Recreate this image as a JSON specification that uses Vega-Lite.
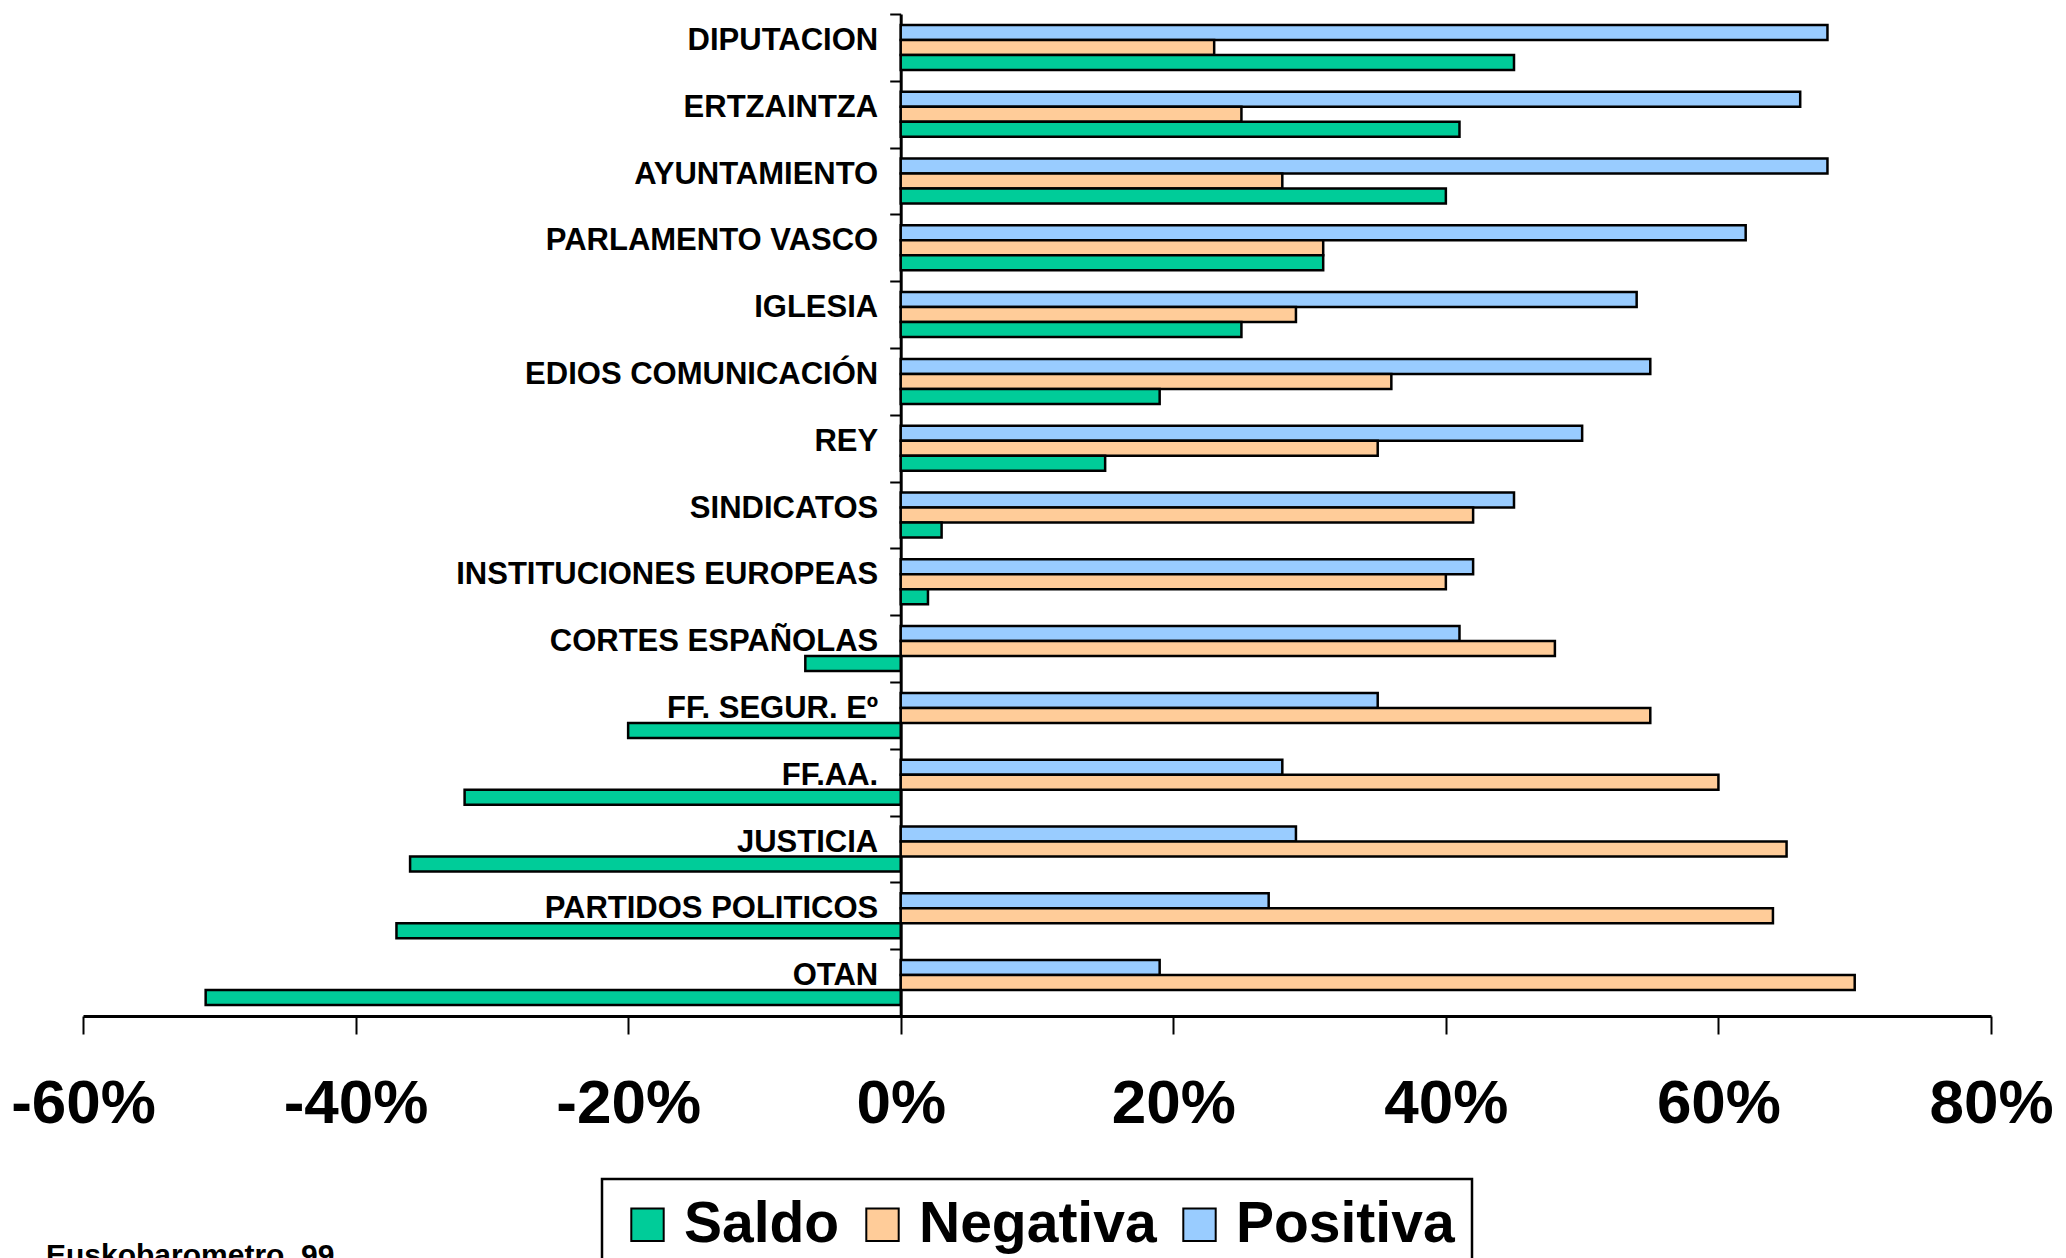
{
  "$schema": "https://vega.github.io/schema/vega-lite/v6.json",
  "width": 1908,
  "height": 1002,
  "autosize": {"type": "none"},
  "padding": {"left": 83, "top": 14, "right": 75, "bottom": 242},
  "background": "white",
  "config": {
    "view": {"stroke": null},
    "font": "Liberation Sans",
    "legend": {"strokeWidth": 2.5}
  },
  "title": {
    "text": "Euskobarometro. 99",
    "orient": "bottom",
    "anchor": "start",
    "frame": "group",
    "fontSize": 30,
    "fontWeight": "bold",
    "color": "black",
    "font": "Liberation Sans",
    "dx": -37,
    "offset": 0,
    "dy": -30
  },
  "data": {
    "values": [
      {"institucion": "DIPUTACION", "serie": "Positiva", "valor": 0.68},
      {"institucion": "DIPUTACION", "serie": "Negativa", "valor": 0.23},
      {"institucion": "DIPUTACION", "serie": "Saldo", "valor": 0.45},
      {"institucion": "ERTZAINTZA", "serie": "Positiva", "valor": 0.66},
      {"institucion": "ERTZAINTZA", "serie": "Negativa", "valor": 0.25},
      {"institucion": "ERTZAINTZA", "serie": "Saldo", "valor": 0.41},
      {"institucion": "AYUNTAMIENTO", "serie": "Positiva", "valor": 0.68},
      {"institucion": "AYUNTAMIENTO", "serie": "Negativa", "valor": 0.28},
      {"institucion": "AYUNTAMIENTO", "serie": "Saldo", "valor": 0.40},
      {"institucion": "PARLAMENTO VASCO", "serie": "Positiva", "valor": 0.62},
      {"institucion": "PARLAMENTO VASCO", "serie": "Negativa", "valor": 0.31},
      {"institucion": "PARLAMENTO VASCO", "serie": "Saldo", "valor": 0.31},
      {"institucion": "IGLESIA", "serie": "Positiva", "valor": 0.54},
      {"institucion": "IGLESIA", "serie": "Negativa", "valor": 0.29},
      {"institucion": "IGLESIA", "serie": "Saldo", "valor": 0.25},
      {"institucion": "EDIOS COMUNICACIÓN", "serie": "Positiva", "valor": 0.55},
      {"institucion": "EDIOS COMUNICACIÓN", "serie": "Negativa", "valor": 0.36},
      {"institucion": "EDIOS COMUNICACIÓN", "serie": "Saldo", "valor": 0.19},
      {"institucion": "REY", "serie": "Positiva", "valor": 0.50},
      {"institucion": "REY", "serie": "Negativa", "valor": 0.35},
      {"institucion": "REY", "serie": "Saldo", "valor": 0.15},
      {"institucion": "SINDICATOS", "serie": "Positiva", "valor": 0.45},
      {"institucion": "SINDICATOS", "serie": "Negativa", "valor": 0.42},
      {"institucion": "SINDICATOS", "serie": "Saldo", "valor": 0.03},
      {"institucion": "INSTITUCIONES EUROPEAS", "serie": "Positiva", "valor": 0.42},
      {"institucion": "INSTITUCIONES EUROPEAS", "serie": "Negativa", "valor": 0.40},
      {"institucion": "INSTITUCIONES EUROPEAS", "serie": "Saldo", "valor": 0.02},
      {"institucion": "CORTES ESPAÑOLAS", "serie": "Positiva", "valor": 0.41},
      {"institucion": "CORTES ESPAÑOLAS", "serie": "Negativa", "valor": 0.48},
      {"institucion": "CORTES ESPAÑOLAS", "serie": "Saldo", "valor": -0.07},
      {"institucion": "FF. SEGUR. Eº", "serie": "Positiva", "valor": 0.35},
      {"institucion": "FF. SEGUR. Eº", "serie": "Negativa", "valor": 0.55},
      {"institucion": "FF. SEGUR. Eº", "serie": "Saldo", "valor": -0.20},
      {"institucion": "FF.AA.", "serie": "Positiva", "valor": 0.28},
      {"institucion": "FF.AA.", "serie": "Negativa", "valor": 0.60},
      {"institucion": "FF.AA.", "serie": "Saldo", "valor": -0.32},
      {"institucion": "JUSTICIA", "serie": "Positiva", "valor": 0.29},
      {"institucion": "JUSTICIA", "serie": "Negativa", "valor": 0.65},
      {"institucion": "JUSTICIA", "serie": "Saldo", "valor": -0.36},
      {"institucion": "PARTIDOS POLITICOS", "serie": "Positiva", "valor": 0.27},
      {"institucion": "PARTIDOS POLITICOS", "serie": "Negativa", "valor": 0.64},
      {"institucion": "PARTIDOS POLITICOS", "serie": "Saldo", "valor": -0.37},
      {"institucion": "OTAN", "serie": "Positiva", "valor": 0.19},
      {"institucion": "OTAN", "serie": "Negativa", "valor": 0.70},
      {"institucion": "OTAN", "serie": "Saldo", "valor": -0.51}
    ]
  },
  "mark": {"type": "bar", "stroke": "black", "strokeWidth": 2.5},
  "encoding": {
    "y": {
      "field": "institucion",
      "type": "nominal",
      "sort": null,
      "scale": {"paddingInner": 0, "paddingOuter": 0},
      "axis": {
        "title": null,
        "offset": -817.7,
        "tickBand": "extent",
        "labelFontSize": 31,
        "labelFontWeight": "bold",
        "labelColor": "black",
        "labelPadding": 12,
        "labelOffset": -7,
        "labelLimit": 700,
        "tickSize": 11,
        "tickWidth": 2,
        "tickColor": "black",
        "domainColor": "black",
        "domainWidth": 3,
        "grid": false
      }
    },
    "yOffset": {
      "field": "serie",
      "type": "nominal",
      "sort": ["Positiva", "Negativa", "Saldo"],
      "scale": {"paddingInner": 0, "paddingOuter": 0.727}
    },
    "x": {
      "field": "valor",
      "type": "quantitative",
      "scale": {"domain": [-0.6, 0.8], "nice": false},
      "axis": {
        "title": null,
        "values": [-0.6, -0.4, -0.2, 0, 0.2, 0.4, 0.6, 0.8],
        "format": ".0%",
        "labelExpr": "replace(datum.label, '−', '-')",
        "labelFontSize": 62,
        "labelFontWeight": "bold",
        "labelColor": "black",
        "labelPadding": 39,
        "labelFlush": false,
        "labelOverlap": false,
        "tickSize": 18,
        "tickWidth": 2,
        "tickColor": "black",
        "domainColor": "black",
        "domainWidth": 3,
        "grid": false
      }
    },
    "color": {
      "field": "serie",
      "type": "nominal",
      "scale": {
        "domain": ["Saldo", "Negativa", "Positiva"],
        "range": ["#00CC99", "#FFCC99", "#99CCFF"]
      },
      "legend": {
        "title": null,
        "orient": "none",
        "legendX": 519,
        "legendY": 1165,
        "direction": "horizontal",
        "strokeColor": "black",
        "fillColor": "white",
        "padding": 17,
        "symbolType": "square",
        "symbolSize": 1050,
        "symbolStrokeColor": "black",
        "symbolStrokeWidth": 2,
        "symbolOpacity": 1,
        "labelFontSize": 57,
        "labelFontWeight": "bold",
        "labelColor": "black",
        "labelOffset": 8,
        "labelLimit": 400,
        "columnPadding": 14
      }
    }
  }
}
